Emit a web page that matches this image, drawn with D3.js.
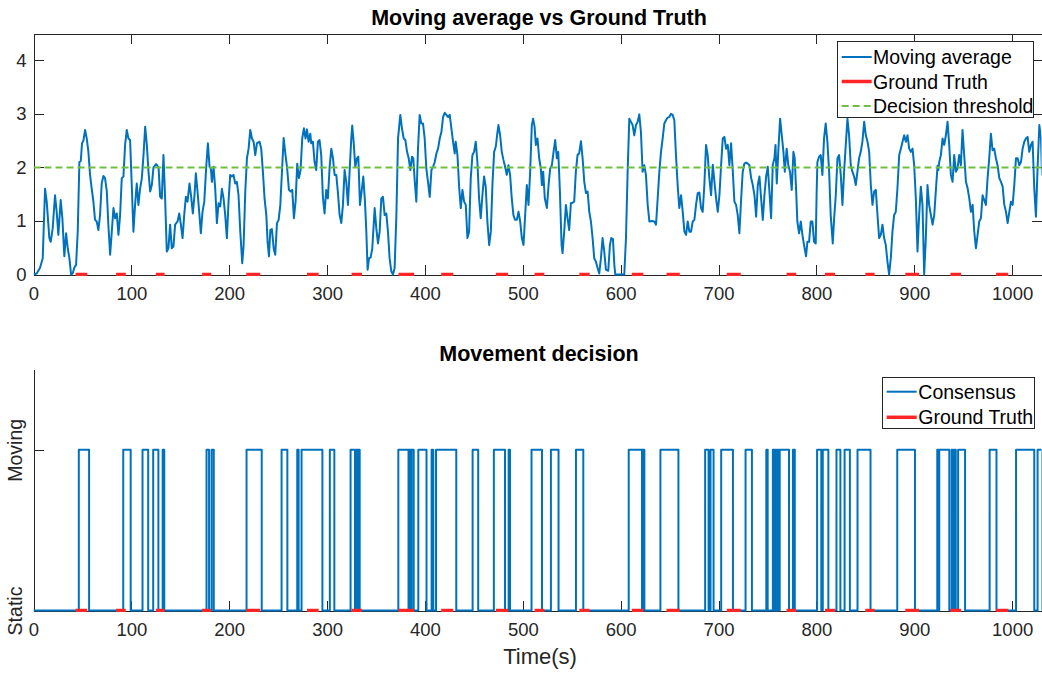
<!DOCTYPE html>
<html>
<head>
<meta charset="utf-8">
<script src="https://cdn.jsdelivr.net/npm/d3@7"></script>
<style>
  body { margin: 0; background: #fff; }
  svg { display: block; font-family: "Liberation Sans", Arial, Helvetica, sans-serif; }
</style>
</head>
<body>
<svg id="fig" width="1042" height="673"></svg>
<script>
// ---- data ----
const timeS = [
  0, 3.2, 6.6, 9.4, 11.8, 13.5, 16.2, 17.6, 19.6, 22, 23.7, 25.4, 27.8, 29.5, 31.5, 33.3, 35, 36.7, 38.4, 40,
  41.8, 43.5, 45.2, 46.9, 48.3, 49.6, 51, 52.7, 54.4, 56.1, 57.8, 59.5, 61.2, 62.9, 64.6, 66.3, 68, 69.7, 71.4, 73.1,
  74.9, 76.5, 78.3, 80, 81.7, 83.4, 85.1, 86.8, 88.5, 90.2, 91.9, 93.6, 95.3, 97, 98.7, 100.4, 102.1, 103.8, 105.5, 107.2,
  108.9, 110.7, 112.4, 114.1, 115.8, 117.5, 119.2, 120.9, 122.6, 125.3, 127.8, 129.4, 131.1, 132.8, 134.5, 136.2, 137.9, 139.6, 141.3, 143,
  144.7, 147.2, 148.9, 150.6, 152.3, 154, 155.7, 157.4, 159.4, 161.1, 162.8, 164.5, 165.9, 167.6, 169.7, 171, 172.7, 174.5, 176.5, 178.2,
  179.9, 181.2, 182.3, 184, 185.7, 187.4, 189.1, 190.8, 192.5, 194.2, 195.9, 197.6, 199.3, 201, 202.7, 204.4, 206.1, 207.8, 209.5, 211.3,
  213.3, 214.7, 216.4, 218.1, 219.8, 221.5, 223.2, 224.9, 226.6, 228.3, 231, 232.7, 234.4, 236.1, 237.9, 239.2, 240.6, 242, 243.6, 245.4,
  247, 248.8, 250.5, 252.2, 253.9, 255.6, 257.5, 259.2, 261, 262.7, 264.4, 266.1, 267.8, 269.5, 271.2, 272.9, 274.6, 276.3, 278, 279.4,
  281.1, 282.8, 283.8, 285.5, 287.2, 288.9, 290.6, 292.3, 294, 295.7, 297.4, 299.1, 300.8, 302.6, 304.3, 306, 307.7, 309.4, 311.1, 312.8,
  314.5, 316.2, 317.9, 319.6, 321.3, 323, 324.7, 325.7, 327.1, 328.8, 330.5, 331.9, 333.6, 335.3, 337, 338.7, 340.1, 341.4, 342.8, 344.5,
  346.2, 348.6, 350.3, 352, 353.7, 355.4, 357.1, 358.8, 360.5, 362.2, 363.9, 365.6, 367.3, 369, 370.8, 372.5, 374.8, 376.5, 378.3, 380,
  381.7, 383.4, 385.1, 386.8, 388.1, 389.5, 391.2, 392.9, 394.6, 396.3, 398, 399.7, 401.4, 403.1, 404.9, 406.6, 408.3, 410, 411.7, 413.4,
  415.1, 416.8, 418.5, 420.2, 421.9, 423.6, 425.3, 427, 428.7, 430.4, 431.4, 433.2, 434.9, 436.6, 438.3, 440, 441.7, 443.4, 445.1, 446.8,
  448.5, 450.2, 451.9, 453.6, 455.3, 457, 458.7, 460.4, 462.1, 463.8, 465.6, 467.3, 469, 470.7, 472.4, 474.1, 475.1, 476.8, 478.5, 480.2,
  481.9, 483.6, 485.3, 487, 488.7, 490.4, 492.1, 493.9, 495.6, 497.3, 499, 500.7, 502.4, 504.1, 505.8, 507.5, 509.2, 510.5, 512, 513.3,
  515, 516.7, 518.4, 519.5, 520.8, 522.5, 524.6, 526.3, 528, 529.7, 531.4, 533.1, 534.8, 536.2, 537.9, 539.6, 540.6, 542.3, 544, 545.7,
  547.4, 549.1, 550.8, 552.5, 554.2, 555.9, 557.6, 559.4, 561.1, 562.8, 564.5, 566.2, 567.9, 569.6, 571.3, 573, 574.7, 576.4, 578.1, 579.8,
  581.5, 583.2, 584.9, 587.3, 589, 590.4, 592.1, 593.5, 594.5, 603.7, 605.4, 607.1, 608.8, 610.5, 612.2, 613.9, 615.6, 617.3, 619, 620.7,
  622.4, 624.1, 625.8, 627.6, 629.3, 632, 634.4, 636.1, 637.8, 639.5, 641.2, 642.9, 644.6, 646.3, 648, 649.7, 651.4, 653.1, 654.8, 656.5,
  658.2, 659.9, 661.7, 663.4, 665.1, 666.8, 668.5, 670.2, 671.9, 673.6, 675.3, 677, 678.7, 680.4, 682.1, 683.8, 685.5, 687.2, 688.9, 690.6,
  692.4, 694.1, 695.8, 697.5, 699.2, 700.9, 702.6, 704.3, 706, 707.7, 709.4, 711.1, 712.8, 714.5, 716.2, 717.9, 719.6, 721.3, 723.1, 724.7,
  726.4, 728.2, 729.9, 731.6, 733.3, 735, 736.7, 738.4, 740.1, 741.8, 743.5, 745.2, 746.9, 748.6, 750.3, 752, 753.7, 755.4, 757.1, 758.2,
  759.5, 761.2, 762.9, 764.6, 766.3, 767.7, 769.6, 771.3, 773, 774.8, 776.5, 777.8, 779.2, 780.5, 782.3, 784, 785.7, 787.4, 789.4, 790.8,
  792.5, 794.2, 795.9, 797.6, 799.3, 800.2, 801, 802.7, 804.4, 806.1, 807.8, 809.5, 811.2, 813, 814.6, 816.7, 818.1, 819.8, 821.5, 823.2,
  824.9, 826.6, 828.3, 830, 831.7, 833.4, 835.1, 836.8, 838.5, 840.2, 841.9, 843.6, 845.3, 847, 848.8, 850.5, 852.2, 853.9, 855.6, 857.3,
  859, 860.7, 862.4, 864.1, 865.8, 867.5, 869.2, 870.9, 872.6, 874.3, 876, 877.7, 879.4, 881.1, 882.8, 884.6, 886.3, 888, 889.7, 891.4,
  893.1, 894.8, 896.5, 898.2, 899.9, 901.6, 903.3, 905, 906.7, 908.4, 910.1, 911.8, 913.5, 915.2, 917, 918.7, 920.4, 922.1, 923.8, 924.6,
  925.5, 927.2, 928.9, 930.6, 932.3, 934, 935.7, 937.4, 939.1, 940.8, 942.5, 944.2, 945.9, 947.6, 949.3, 951, 952.8, 954.5, 956.2, 957.9,
  959.6, 961.3, 963, 964.7, 966.4, 968.1, 969.8, 971.5, 973.2, 974.9, 976.6, 978.3, 980, 981.7, 983.4, 985.1, 986.9, 988.6, 990.3, 992,
  993.7, 995.4, 997.1, 998.8, 1000.5, 1002.2, 1003.9, 1005.6, 1007.3, 1009, 1010.7, 1012.4, 1014.1, 1015.8, 1017.5, 1019.2, 1020.9, 1022.6, 1024.3, 1026,
  1027.8, 1029.5, 1030.5
];
const movingAvg = [
  0, 0.02, 0.12, 0.3, 1.6, 1.36, 0.68, 0.61, 0.86, 1.48, 1.17, 0.74, 1.39, 1.05, 0.34, 0.77, 0.49, 0.3, 0, 0.02,
  0.13, 0.18, 0.8, 2.1, 2.12, 2.45, 2.5, 2.7, 2.54, 2.29, 1.86, 1.6, 1.36, 1.02, 0.99, 0.83, 1.11, 1.7, 1.84, 1.8,
  1.55, 0.93, 0.37, 0.8, 1.24, 1.05, 1.14, 0.74, 1.11, 1.8, 1.83, 2.42, 2.7, 2.54, 2.51, 1.67, 0.8, 1.3, 1.7, 1.3,
  1.6, 1.8, 2.23, 2.76, 2.42, 1.92, 1.55, 1.67, 2.0, 2.06, 2.0, 1.45, 1.42, 2.23, 1.42, 0.43, 0.49, 0.93, 0.49, 0.52,
  0.93, 0.99, 1.14, 0.93, 0.68, 1.11, 1.45, 1.36, 1.7, 1.45, 1.14, 1.48, 1.89, 1.55, 1.08, 0.77, 1.17, 1.36, 2.01, 2.45,
  2.01, 1.98, 1.73, 2.01, 1.6, 0.96, 1.33, 1.27, 1.6, 1.42, 1.11, 0.68, 1.36, 1.86, 1.83, 1.86, 1.7, 1.73, 1.48, 0.8,
  0.21, 0.55, 1.55, 2.17, 2.35, 2.7, 2.54, 2.48, 2.23, 2.45, 2.48, 2.35, 1.92, 1.42, 1.11, 0.61, 0.34, 0.83, 0.85, 0.49,
  0.37, 0.96, 1.02, 1.3, 1.92, 2.55, 2.23, 1.98, 1.58, 1.55, 1.58, 1.05, 1.36, 2.07, 1.8, 1.95, 2.54, 2.73, 2.54, 2.71,
  2.48, 2.63, 2.45, 2.48, 2.1, 1.95, 2.48, 2.51, 2.23, 1.45, 1.14, 1.58, 1.42, 2.01, 2.35, 2.17, 1.86, 1.86, 1.52, 1.11,
  0.96, 1.3, 1.95, 1.73, 1.3, 1.92, 2.54, 2.78, 2.48, 2.01, 2.17, 2.2, 1.3, 1.55, 1.83, 1.36, 0.8, 0.09, 0.3, 0.32,
  0.49, 1.24, 0.86, 0.58, 0.8, 1.42, 1.45, 1.11, 1.14, 0.8, 0.3, 0.06, 0, 0.12, 1.11, 2.54, 2.98, 2.73, 2.54, 2.51,
  2.29, 2.17, 1.95, 2.2, 2.17, 1.76, 1.36, 2.35, 2.98, 2.82, 2.82, 2.54, 1.98, 1.73, 1.45, 1.95, 2.01, 2.1, 2.26, 2.35,
  2.54, 2.66, 2.94, 3.02, 2.98, 2.94, 2.98, 2.73, 2.48, 2.26, 2.48, 2.23, 1.64, 1.24, 1.58, 1.36, 1.3, 0.68, 0.8, 1.8,
  2.23, 2.29, 2.48, 2.1, 1.42, 1.05, 1.48, 1.83, 1.64, 0.99, 0.55, 0.8, 1.7, 2.29, 2.39, 2.66, 2.79, 2.6, 2.29, 2.14,
  2.01, 1.86, 2.04, 1.86, 1.42, 1.11, 1.02, 1.02, 1.17, 0.99, 0.68, 0.55, 1.11, 1.67, 1.3, 1.92, 2.79, 2.91, 2.76, 2.42,
  2.54, 2.17, 1.98, 1.67, 1.92, 1.42, 1.24, 1.67, 1.98, 2.04, 2.29, 2.51, 2.17, 2.29, 1.55, 0.55, 0.4, 0.8, 1.3, 1.05,
  0.83, 1.33, 1.34, 1.36, 1.92, 2.23, 2.26, 2.49, 2.17, 1.73, 1.52, 1.55, 1.17, 0.99, 0.68, 0.3, 0.24, 0.12, 0.02, 0.3,
  0.68, 0.43, 0.09, 0.07, 0.55, 0.68, 0.66, 0.18, 0, 0, 0.68, 1.92, 2.91, 2.85, 2.79, 2.6, 2.79, 2.85, 2.99, 2.66,
  1.92, 2.04, 1.86, 1.3, 0.99, 1.0, 0.99, 0.93, 1.42, 1.92, 2.29, 2.54, 2.82, 2.88, 2.93, 2.94, 3.0, 2.98, 2.88, 2.23,
  1.67, 1.24, 1.48, 1.17, 0.8, 0.74, 0.99, 0.8, 0.8, 0.99, 1.02, 1.3, 1.52, 1.53, 1.24, 1.17, 1.67, 2.42, 2.23, 1.8,
  1.48, 2.05, 1.73, 1.42, 1.17, 1.48, 2.04, 2.54, 2.57, 2.35, 2.42, 2.04, 2.45, 1.95, 1.36, 1.3, 1.11, 0.77, 1.42, 1.92,
  2.07, 2.09, 2.07, 2.04, 1.8, 1.67, 1.48, 1.08, 1.67, 1.83, 1.42, 1.02, 1.48, 1.83, 2.01, 1.55, 1.05, 2.05, 2.17, 2.42,
  1.7, 2.35, 2.91, 2.6, 2.29, 1.92, 2.35, 2.04, 1.92, 1.58, 2.29, 2.17, 1.61, 0.99, 0.77, 0.99, 0.74, 0.55, 0.34, 0.61,
  0.61, 0.99, 0.99, 0.61, 0.58, 1.5, 2.1, 2.2, 2.23, 1.86, 2.54, 2.82, 2.48, 1.92, 1.11, 0.58, 1.05, 1.48, 2.17, 2.23,
  1.86, 1.3, 1.92, 2.42, 2.91, 2.6, 2.04, 1.92, 1.83, 1.67, 1.92, 2.17, 2.29, 2.48, 2.85, 2.6, 2.48, 2.29, 1.67, 1.3,
  1.55, 1.58, 1.11, 0.68, 0.74, 0.93, 0.68, 0.55, 0.24, 0, 0.3, 0.8, 1.11, 1.17, 1.61, 2.23, 2.35, 2.48, 2.6, 2.48,
  2.6, 2.35, 2.29, 2.35, 2.04, 1.42, 0.43, 1.11, 1.64, 1.3, 0, 0.68, 1.67, 1.3, 1.11, 0.93, 1.11, 1.58, 2.03, 1.95,
  2.1, 2.23, 2.54, 2.42, 2.6, 2.85, 2.42, 1.86, 1.73, 2.23, 1.92, 1.98, 2.23, 2.04, 2.7, 2.23, 1.73, 1.61, 1.42, 1.17,
  1.3, 0.8, 0.49, 0.74, 0.99, 1.05, 1.48, 1.39, 1.3, 1.8, 2.17, 2.63, 2.32, 2.35, 2.17, 2.04, 1.8, 1.73, 1.64, 1.3,
  1.17, 0.96, 1.17, 1.36, 1.3, 1.67, 2.17, 2.17, 2.04, 2.1, 2.35, 2.48, 2.54, 2.57, 2.29, 2.42, 2.48, 1.61, 1.08, 2.0,
  2.79, 2.54, 1.85
];
// ground truth movement intervals (s)
const gtStart = [43, 84.4, 125, 172.3, 217.4, 279.5, 325, 373, 416.6, 472.4, 512, 557.7, 611.3, 646.8, 708.4, 769.5, 808.7, 850, 890.8, 936.9, 983.6];
const gtEnd   = [55, 94.3, 134, 181.6, 231.7, 291.4, 335.7, 389, 428.9, 485, 522, 568.3, 623.2, 660.4, 722.7, 779.3, 819, 859.5, 904.9, 947.8, 996];
// consensus "Moving" intervals (s)
const moveStart = [46.3, 91.7, 111.4, 122.3, 132, 176.8, 182, 217.7, 253.5, 269.5, 273.9, 302.8, 324, 329.5, 331.5, 372.8, 384.2, 386.3, 393.2, 406.8,
  411.3, 448.7, 470.4, 485.5, 508.9, 528.7, 554.3, 608.2, 622.5, 640.6, 686.3, 691.8, 702.7, 727.6, 748.8, 755.5, 757.6, 760.2, 762.5, 776,
  800.7, 806.5, 820.5, 828.8, 842, 882.6, 923.5, 925.5, 938.2, 940.6, 944.8, 977, 1004, 1026];
const moveEnd = [56.8, 99.3, 117.2, 127.6, 133.6, 179.4, 184.2, 233.2, 259.4, 270.9, 295.2, 307.4, 328.5, 330.6, 333.3, 383.2, 385.3, 388.5, 401.6, 408.5,
  432, 454.4, 481.8, 486.9, 519.6, 536.5, 561.8, 621.8, 624.2, 659, 689.8, 694.9, 714.7, 734.1, 750.2, 756.6, 759, 761.4, 772, 777.9,
  805, 812.2, 824.5, 834.2, 855.3, 900.7, 924.5, 935.8, 939.5, 942.4, 951.9, 984, 1022.6, 1030.5];
const threshold = 2;
const xTicks = [0, 100, 200, 300, 400, 500, 600, 700, 800, 900, 1000];
const avgTicks = [0, 1, 2, 3, 4];
const stateLabels = ["Static", "Moving"];
const xMax = 1030;

// ---- look ----
const axisColor = "#262626";
const blue = "#0072bd", red = "#ff2525", green = "#6fbf3f";
const tickFont = 18.5, titleFont = 21.5, labelFont = 22, legendFont = 19.5;

const svg = d3.select("#fig");
svg.append("rect").attr("width", 1042).attr("height", 673).attr("fill", "#fff");

const axLeft = 33.5, axRight = 1041.5;
const x = d3.scaleLinear().domain([0, xMax]).range([axLeft, axRight]);
const yTop = d3.scaleLinear().domain([0, 4.5]).range([274.5, 33.5]);
const yBot = d3.scaleLinear().domain([0, 1.5]).range([610.5, 369.5]);
const intFmt = d3.format("d");

const avgData = timeS.map((t, i) => ({ t: t, v: movingAvg[i] }));
const gtData = gtStart.map((s, i) => [s, gtEnd[i]]);

// step points for the consensus trace
const stepPts = [{ t: 0, v: 0 }];
moveStart.forEach((s, i) => {
  stepPts.push({ t: s, v: 0 }, { t: s, v: 1 }, { t: moveEnd[i], v: 1 }, { t: moveEnd[i], v: 0 });
});
stepPts.push({ t: xMax, v: 0 });

const defs = svg.append("defs");
function clip(id, y0, y1) {
  defs.append("clipPath").attr("id", id).append("rect")
    .attr("x", axLeft).attr("y", y0).attr("width", axRight - axLeft).attr("height", y1 - y0);
}
clip("clipTop", 33.5, 276);
clip("clipBot", 369.5, 612);

function styleAxis(g) {
  g.selectAll("path.domain").attr("stroke", axisColor).attr("shape-rendering", "crispEdges");
  g.selectAll(".tick line").attr("stroke", axisColor).attr("shape-rendering", "crispEdges");
  g.selectAll(".tick text").attr("fill", axisColor).style("font-size", tickFont + "px");
}

// ================= top: moving average =================
const topAx = svg.append("g");

topAx.append("g").attr("transform", `translate(0,${yTop(0)})`)
  .call(d3.axisBottom(x).tickValues(xTicks).tickFormat(intFmt).tickSizeInner(-10).tickSizeOuter(0).tickPadding(12))
  .call(styleAxis);
topAx.append("g").attr("transform", `translate(0,${yTop(4.5)})`)
  .call(d3.axisTop(x).tickValues(xTicks).tickSizeInner(-10).tickSizeOuter(0).tickFormat(""))
  .call(styleAxis);
topAx.append("g").attr("transform", `translate(${axLeft},0)`)
  .call(d3.axisLeft(yTop).tickValues(avgTicks).tickFormat(intFmt).tickSizeInner(-10).tickSizeOuter(0).tickPadding(7))
  .call(styleAxis);
topAx.append("g").attr("transform", `translate(${axRight},0)`)
  .call(d3.axisRight(yTop).tickValues(avgTicks).tickSizeInner(-10).tickSizeOuter(0).tickFormat(""))
  .call(styleAxis);

const topPlot = topAx.append("g").attr("clip-path", "url(#clipTop)");
topPlot.append("path").datum(avgData)
  .attr("fill", "none").attr("stroke", blue).attr("stroke-width", 2).attr("stroke-linejoin", "round")
  .attr("d", d3.line().x(d => x(d.t)).y(d => yTop(d.v)));
topPlot.selectAll("line.gt").data(gtData).join("line").attr("class", "gt")
  .attr("x1", d => x(d[0])).attr("x2", d => x(d[1]))
  .attr("y1", yTop(0)).attr("y2", yTop(0))
  .attr("stroke", red).attr("stroke-width", 3.5);
topPlot.append("line")
  .attr("x1", x(0)).attr("x2", x(xMax)).attr("y1", yTop(threshold)).attr("y2", yTop(threshold))
  .attr("stroke", green).attr("stroke-width", 2).attr("stroke-dasharray", "7,4");

topAx.append("text").attr("x", 539).attr("y", 25).attr("text-anchor", "middle")
  .style("font-size", titleFont + "px").style("font-weight", "bold").attr("fill", "#000")
  .text("Moving average vs Ground Truth");

// legend
const legTop = topAx.append("g");
legTop.append("rect").attr("x", 837.5).attr("y", 41.5).attr("width", 195.5).attr("height", 75.5)
  .attr("fill", "#fff").attr("stroke", axisColor).attr("shape-rendering", "crispEdges");
[
  { label: "Moving average", color: blue, w: 2, dash: null },
  { label: "Ground Truth", color: red, w: 3.5, dash: null },
  { label: "Decision threshold", color: green, w: 2, dash: "7,4" }
].forEach((d, i) => {
  const cy = 57 + i * 24.5;
  legTop.append("line").attr("x1", 841.7).attr("x2", 871.7).attr("y1", cy).attr("y2", cy)
    .attr("stroke", d.color).attr("stroke-width", d.w).attr("stroke-dasharray", d.dash);
  legTop.append("text").attr("x", 873).attr("y", cy + 7).attr("fill", "#000")
    .style("font-size", legendFont + "px").text(d.label);
});

// ================= bottom: movement decision =================
const botAx = svg.append("g");

botAx.append("g").attr("transform", `translate(0,${yBot(0)})`)
  .call(d3.axisBottom(x).tickValues(xTicks).tickFormat(intFmt).tickSizeInner(-10).tickSizeOuter(0).tickPadding(12))
  .call(styleAxis);
const yAxB = botAx.append("g").attr("transform", `translate(${axLeft},0)`)
  .call(d3.axisLeft(yBot).tickValues([0, 1]).tickFormat(i => stateLabels[i])
    .tickSizeInner(-10).tickSizeOuter(0))
  .call(styleAxis);
yAxB.selectAll(".tick text")
  .attr("transform", "rotate(-90)").attr("text-anchor", "middle")
  .attr("x", 0).attr("y", -11.5).attr("dy", 0)
  .style("font-size", "19.5px");

const botPlot = botAx.append("g").attr("clip-path", "url(#clipBot)");
botPlot.append("path").datum(stepPts)
  .attr("fill", "none").attr("stroke", blue).attr("stroke-width", 2).attr("stroke-linejoin", "round")
  .attr("d", d3.line().x(d => x(d.t)).y(d => yBot(d.v)));
botPlot.selectAll("line.gt").data(gtData).join("line").attr("class", "gt")
  .attr("x1", d => x(d[0])).attr("x2", d => x(d[1]))
  .attr("y1", yBot(0)).attr("y2", yBot(0))
  .attr("stroke", red).attr("stroke-width", 3.5);

botAx.append("text").attr("x", 539).attr("y", 361).attr("text-anchor", "middle")
  .style("font-size", titleFont + "px").style("font-weight", "bold").attr("fill", "#000")
  .text("Movement decision");
botAx.append("text").attr("x", 540).attr("y", 664).attr("text-anchor", "middle")
  .style("font-size", labelFont + "px").attr("fill", axisColor)
  .text("Time(s)");

const legBot = botAx.append("g");
legBot.append("rect").attr("x", 882.5).attr("y", 377.5).attr("width", 151.5).attr("height", 51)
  .attr("fill", "#fff").attr("stroke", axisColor).attr("shape-rendering", "crispEdges");
[
  { label: "Consensus", color: blue, w: 2 },
  { label: "Ground Truth", color: red, w: 3.5 }
].forEach((d, i) => {
  const cy = 391.7 + i * 25.6;
  legBot.append("line").attr("x1", 886.7).attr("x2", 916.7).attr("y1", cy).attr("y2", cy)
    .attr("stroke", d.color).attr("stroke-width", d.w);
  legBot.append("text").attr("x", 918.3).attr("y", cy + 7).attr("fill", "#000")
    .style("font-size", legendFont + "px").text(d.label);
});
</script>
</body>
</html>
